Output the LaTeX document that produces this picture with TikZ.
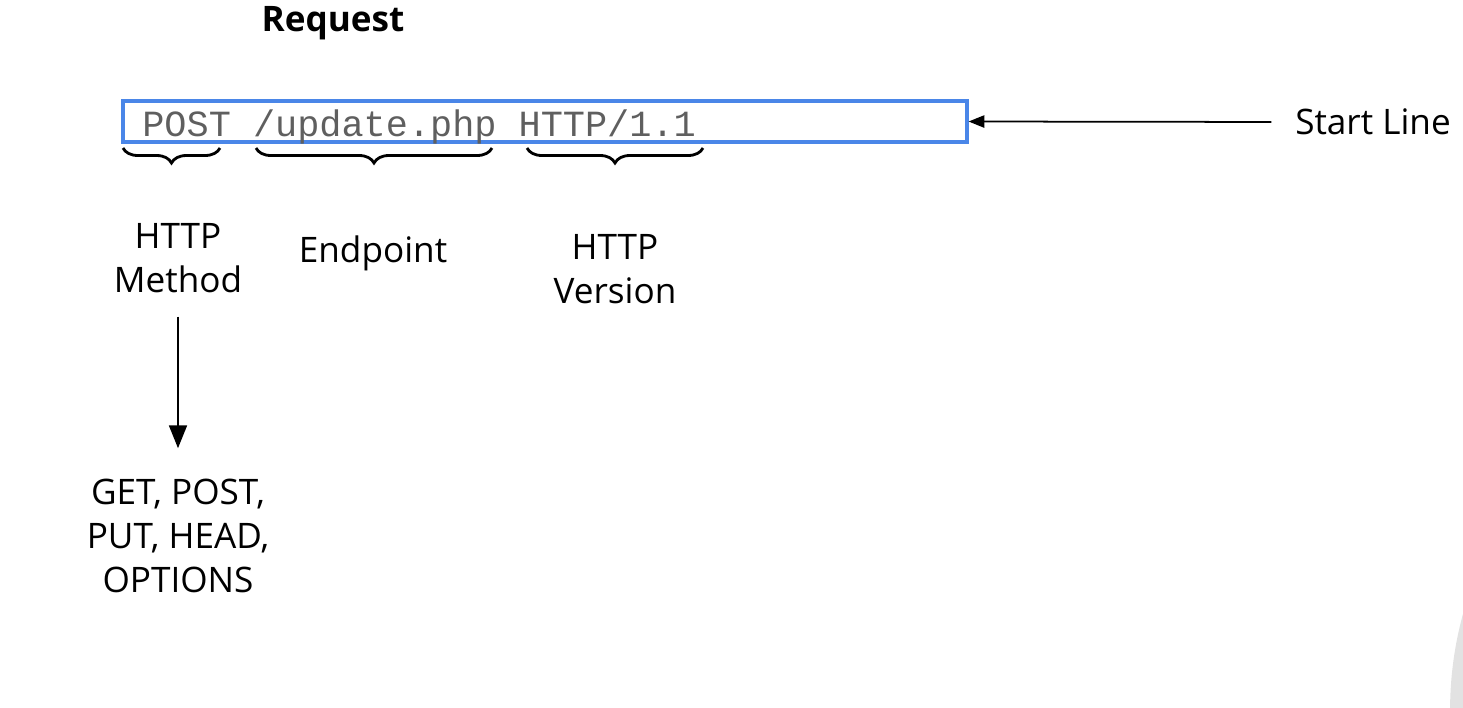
\documentclass[tikz,border=0pt]{standalone}
\usepackage{fontspec}
\setmainfont{Open Sans}
\setmonofont{Liberation Mono}
\usetikzlibrary{arrows.meta, positioning, calc, decorations.pathreplacing}
\definecolor{lineblue}{RGB}{74,134,232}
\definecolor{codegray}{RGB}{95,95,95}
\definecolor{bubblegray}{RGB}{226,226,226}

\begin{document}
\begin{tikzpicture}[
    x=0.02cm,
    y=-0.02cm,
    >=Stealth,
    font=\fontsize{20}{25}\selectfont,
    title/.style={
        font=\fontsize{20}{25}\selectfont\bfseries
    },
    lab/.style={
        align=center,
        inner sep=2pt
    },
    code/.style={
        font=\fontsize{21}{25}\selectfont\ttfamily,
        text=codegray,
        inner sep=0pt
    },
    linebox/.style={
        draw=lineblue,
        line width=1.9pt,
        minimum width=16.88cm,
        minimum height=0.82cm,
        inner sep=0pt
    },
    brace/.style={
        decorate,
        decoration={brace, mirror, amplitude=0.3cm},
        line width=1.6pt
    },
    flow/.style={line width=1.6pt, -{Triangle[length=13pt, width=10pt]}},
    pointer/.style={line width=1pt, -{Triangle[length=9pt, width=7pt]}}
]
\useasboundingbox (0,0) rectangle (1463,707);

% ---------------- Background ----------------
\begin{scope}
    \clip (0,0) rectangle (1463,707);
    \fill[bubblegray] (1812,710) circle[radius=7.24cm];
\end{scope}

% ---------------- Nodes ----------------
\node[title]     (request)  at (333, 23)  {Request};

\node[linebox]   (startbox) at (545, 121.5) {};
\node[code, anchor=base west] (reqline) at (142, 136) {POST /update.php HTTP/1.1};

\node[lab]       (method)   at (178, 258) {HTTP\\Method};
\node[lab]       (endpoint) at (373, 253) {Endpoint};
\node[lab]       (version)  at (615, 269) {HTTP\\Version};

\node[lab]       (verbs)    at (178, 536) {GET, POST,\\PUT, HEAD,\\OPTIONS};

\node[lab]       (startlbl) at (1373, 122) {Start Line};

% ---------------- Braces ----------------
\coordinate (b1l) at (123, 148);
\coordinate (b1r) at (220, 148);
\coordinate (b2l) at (256, 148);
\coordinate (b2r) at (492, 148);
\coordinate (b3l) at (527, 148);
\coordinate (b3r) at (703, 148);

\draw[brace] (b1l) -- (b1r);
\draw[brace] (b2l) -- (b2r);
\draw[brace] (b3l) -- (b3r);

% ---------------- Arrows ----------------
\draw[flow, shorten <=0.4cm, shorten >=0.54cm] (method.south) -- (method.south |- verbs.north);
\draw[pointer, shorten <=0.4cm] (startlbl.west) -- (startbox.east);

\end{tikzpicture}
\end{document}
